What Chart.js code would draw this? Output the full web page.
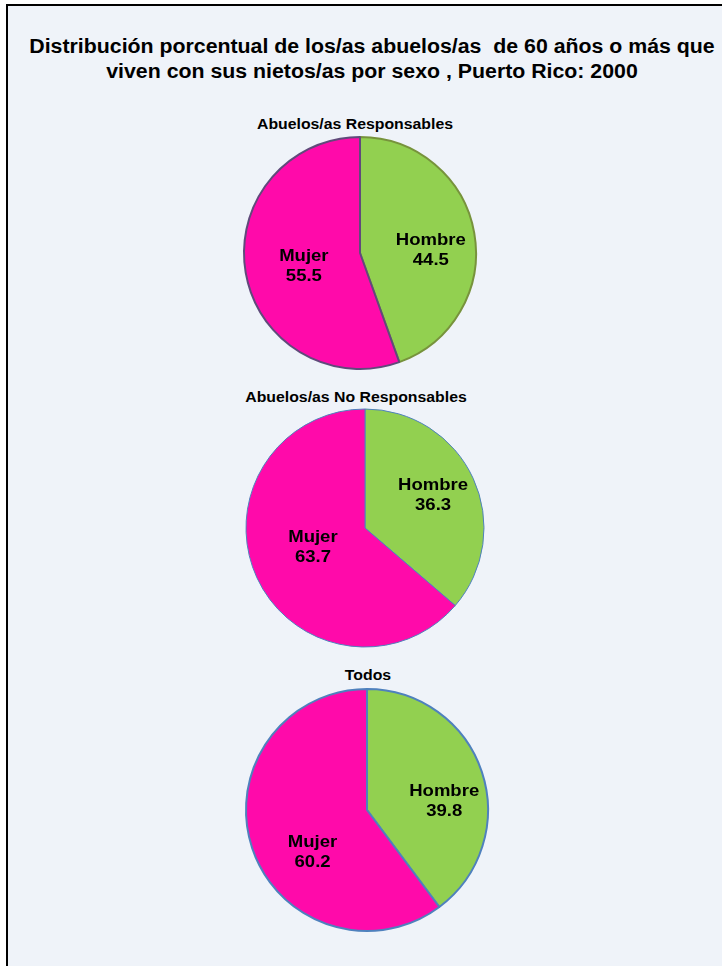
<!DOCTYPE html>
<html>
<head>
<meta charset="utf-8">
<script src="https://cdn.jsdelivr.net/npm/chart.js@4.4.1/dist/chart.umd.min.js"></script>
<style>
  html, body { margin: 0; padding: 0; background: #fff; }
  body { width: 722px; height: 966px; position: relative; overflow: hidden; font-family: Arial, "Liberation Sans", sans-serif; }
  .frame { position: absolute; left: 6px; top: 4px; width: 740px; height: 990px; border-left: 2px solid #000; border-top: 2px solid #000; background: #eff3f9; }
  .title { position: absolute; left: 0; width: 744px; top: 34px; text-align: center; font-weight: bold; font-size: 20px; line-height: 25px; color: #000; transform: scaleX(1.065); transform-origin: 372px 0; white-space: nowrap; }
  .sub { position: absolute; width: 300px; text-align: center; font-weight: bold; font-size: 14px; line-height: 16px; color: #000; transform: scaleX(1.13); white-space: nowrap; }
  .pie { position: absolute; width: 260px; height: 260px; }
</style>
</head>
<body>
<div class="frame"></div>
<div class="title">Distribución porcentual de los/as abuelos/as&nbsp; de 60 años o más que<br>viven con sus nietos/as por sexo , Puerto Rico: 2000</div>

<div class="sub" id="t0" style="left:205px; top:116px;"></div>
<div class="pie" style="left:230px; top:123px;"><canvas id="c0"></canvas></div>

<div class="sub" id="t1" style="left:206px; top:389px;"></div>
<div class="pie" style="left:235px; top:398px;"><canvas id="c1"></canvas></div>

<div class="sub" id="t2" style="left:218px; top:667px;"></div>
<div class="pie" style="left:237px; top:680px;"><canvas id="c2"></canvas></div>

<script>
const categories = ['Hombre', 'Mujer'];
const panelTitles = ['Abuelos/as Responsables', 'Abuelos/as No Responsables', 'Todos'];
const responsables = [44.5, 55.5];
const noResponsables = [36.3, 63.7];
const todos = [39.8, 60.2];

const sliceColors = ['#92d050', '#ff0aaa'];
const labelRadius = [0.62, 0.5];

// draw "Hombre / 44.5" inside each slice, nudged like the Excel labels
const sliceLabels = {
  id: 'sliceLabels',
  afterDatasetsDraw(chart, args, opts) {
    const { ctx } = chart;
    const meta = chart.getDatasetMeta(0);
    const values = chart.data.datasets[0].data;
    const nudge = opts.nudge || [[0, 0], [0, 0]];
    ctx.save();
    ctx.font = 'bold 17px Arial, "Liberation Sans", sans-serif';
    ctx.fillStyle = '#000';
    ctx.textAlign = 'center';
    ctx.textBaseline = 'middle';
    meta.data.forEach((arc, i) => {
      const { x, y, startAngle, endAngle, outerRadius } = arc.getProps(['x', 'y', 'startAngle', 'endAngle', 'outerRadius'], true);
      const mid = (startAngle + endAngle) / 2;
      const px = x + Math.cos(mid) * outerRadius * labelRadius[i] + nudge[i][0];
      const py = y + Math.sin(mid) * outerRadius * labelRadius[i] + nudge[i][1];
      ctx.save();
      ctx.translate(px, py);
      ctx.scale(1.09, 1);
      ctx.fillText(chart.data.labels[i], 0, -10);
      ctx.fillText(values[i].toFixed(1), 0, 10);
      ctx.restore();
    });
    ctx.restore();
  }
};

const makePie = (id, values, radius, borders, borderWidth, nudge) => {
  new Chart(document.getElementById(id), {
    type: 'pie',
    data: {
      labels: categories,
      datasets: [{
        data: values,
        backgroundColor: sliceColors,
        borderColor: borders,
        borderWidth: borderWidth,
      }]
    },
    options: {
      responsive: false,
      animation: false,
      radius: radius,
      layout: { padding: 0 },
      plugins: {
        legend: { display: false },
        tooltip: { enabled: false },
        title: { display: false },
        sliceLabels: { nudge: nudge }
      }
    },
    plugins: [sliceLabels]
  });
};

panelTitles.forEach((t, i) => { document.getElementById('t' + i).textContent = t; });

['c0', 'c1', 'c2'].forEach(id => {
  const c = document.getElementById(id);
  c.width = 260; c.height = 260;
});

makePie('c0', responsables, 116, ['#77933c', '#604a7b'], 2, [[0, 10], [1, 3]]);
makePie('c1', noResponsables, 119, ['#4f81bd', '#4f81bd'], 1, [[1, -2], [2, -6]]);
makePie('c2', todos, 121, ['#4f81bd', '#4f81bd'], 2, [[6, 15], [3, 23]]);
</script>
</body>
</html>
